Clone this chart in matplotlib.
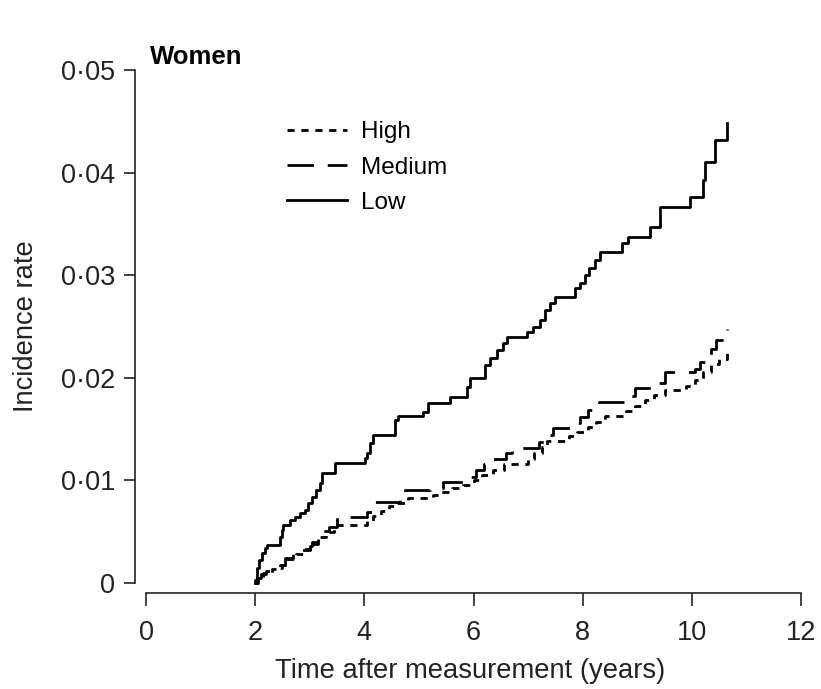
import numpy as np
import matplotlib
matplotlib.use('Agg')
import matplotlib.pyplot as plt

plt.rcParams['font.family'] = ['Liberation Sans', 'DejaVu Sans']

# Step-Daten (Zeitpunkt, kumulierte Inzidenz nach dem Sprung)
high_t = [2.0, 2.05, 2.15, 2.3, 2.45, 2.6, 2.75, 2.9, 3.05, 3.15, 3.3, 3.45,
          4.05, 4.15, 4.3, 4.45, 4.6, 4.8, 5.25, 5.4, 5.6, 5.8, 6.0, 6.15,
          6.35, 6.55, 7.0, 7.1, 7.25, 7.35, 7.75, 7.9, 8.1, 8.25, 8.4, 8.8,
          8.95, 9.15, 9.3, 9.5, 9.9, 10.05, 10.2, 10.35, 10.5, 10.65]
high_y = [0.0, 0.0005, 0.001, 0.0014, 0.0018, 0.0023, 0.0028, 0.0033, 0.0038,
          0.0045, 0.005, 0.0057, 0.006, 0.0065, 0.007, 0.0075, 0.0078, 0.0083,
          0.0086, 0.0089, 0.0093, 0.0096, 0.0100, 0.0105, 0.011, 0.0116,
          0.0121, 0.0127, 0.0133, 0.0138, 0.0143, 0.0147, 0.0152, 0.0157,
          0.0163, 0.0168, 0.0173, 0.0178, 0.0183, 0.0188, 0.0192, 0.0198,
          0.0206, 0.0213, 0.0218, 0.0224]

medium_t = [2.0, 2.03, 2.1, 2.2, 2.3, 2.5, 2.55, 2.7, 2.8, 3.0, 3.05, 3.15,
            3.25, 3.35, 3.5, 4.05, 4.15, 4.65, 4.75, 5.2, 5.45, 5.95, 6.05,
            6.2, 6.3, 6.6, 6.7, 7.2, 7.3, 7.45, 7.8, 7.95, 8.1, 8.3, 8.8,
            8.95, 9.25, 9.5, 10.05, 10.15, 10.25, 10.35, 10.45, 10.65]
medium_y = [0.0, 0.0005, 0.0009, 0.0012, 0.0015, 0.0018, 0.0024, 0.0028,
            0.0032, 0.0036, 0.004, 0.0046, 0.0051, 0.0055, 0.0064, 0.0069,
            0.0079, 0.0083, 0.0091, 0.0093, 0.0098, 0.0103, 0.011, 0.0116,
            0.0121, 0.0127, 0.0132, 0.0137, 0.0144, 0.0151, 0.0156, 0.0162,
            0.0169, 0.0176, 0.0182, 0.019, 0.0195, 0.0206, 0.0209, 0.0215,
            0.0222, 0.0228, 0.0237, 0.0248]

low_t = [2.0, 2.0, 2.03, 2.07, 2.12, 2.18, 2.22, 2.45, 2.49, 2.51, 2.64, 2.73,
         2.82, 2.91, 2.97, 3.04, 3.11, 3.19, 3.22, 3.46, 4.01, 4.05, 4.10,
         4.16, 4.56, 4.62, 5.07, 5.16, 5.57, 5.88, 5.93, 6.21, 6.30, 6.43,
         6.54, 6.61, 6.98, 7.09, 7.22, 7.31, 7.40, 7.49, 7.86, 7.95, 8.04,
         8.11, 8.22, 8.32, 8.72, 8.83, 9.23, 9.41, 9.96, 10.20, 10.24, 10.42,
         10.64]
low_y = [0.0, 0.0003, 0.0015, 0.0022, 0.0029, 0.0034, 0.0037, 0.0045, 0.0052,
         0.0057, 0.0061, 0.0064, 0.0068, 0.0071, 0.0078, 0.0084, 0.0091,
         0.0097, 0.0107, 0.0117, 0.0122, 0.0127, 0.0136, 0.0144, 0.0159,
         0.0163, 0.0167, 0.0175, 0.0181, 0.0191, 0.0200, 0.0212, 0.0219,
         0.0227, 0.0234, 0.0240, 0.0245, 0.0250, 0.0256, 0.0266, 0.0273,
         0.0279, 0.0288, 0.0292, 0.0300, 0.0307, 0.0315, 0.0323, 0.0331,
         0.0337, 0.0347, 0.0366, 0.0376, 0.0393, 0.0410, 0.0432, 0.0448]

yticks = [0, 0.01, 0.02, 0.03, 0.04, 0.05]
ytick_labels = ['0', '0·01', '0·02', '0·03', '0·04', '0·05']
xticks = [0, 2, 4, 6, 8, 10, 12]

W, H = 821, 689
fig = plt.figure(figsize=(W / 100, H / 100), dpi=100)
ax = fig.add_axes([146 / W, 1 - 583 / H, (801 - 146) / W, (583 - 70) / H])

lw = 2.0
ax.step(high_t, high_y, where='post', color='black', lw=lw,
        linestyle=(0, (2.6, 2.4)), label='High', clip_on=False)
ax.step(medium_t, medium_y, where='post', color='black', lw=lw,
        linestyle=(0, (9.5, 5)), label='Medium', clip_on=False)
ax.step(low_t, low_y, where='post', color='black', lw=lw,
        label='Low', clip_on=False)

ax.set_xlim(0, 12)
ax.set_ylim(0, 0.05)
ax.set_xticks(xticks)
ax.set_yticks(yticks)
ax.set_yticklabels(ytick_labels)

for s in ['top', 'right']:
    ax.spines[s].set_visible(False)
ax.spines['left'].set_position(('outward', 8))
ax.spines['bottom'].set_position(('outward', 7.5))
for s in ['left', 'bottom']:
    ax.spines[s].set_linewidth(1.2)
    ax.spines[s].set_color('#222222')
ax.tick_params(axis='y', length=8, width=1.2, pad=6, labelsize=19.5,
               color='#222222', labelcolor='#222222')
ax.tick_params(axis='x', length=9.5, width=1.2, pad=10, labelsize=19.5,
               color='#222222', labelcolor='#222222')

leg = ax.legend(loc='upper left', bbox_to_anchor=(0.197, 0.924), frameon=False,
                fontsize=17.5, handlelength=2.46, handletextpad=0.57,
                labelspacing=0.55, borderpad=0)

fig.text(26 / W, 1 - 326 / H, 'Incidence rate', rotation=90, fontsize=19.7,
         ha='center', va='center', color='#222222')
fig.text(470 / W, 1 - 671 / H, 'Time after measurement (years)', fontsize=19.7,
         ha='center', va='center', color='#222222')
fig.text(150 / W, 1 - 57 / H, 'Women', fontsize=18.5, fontweight='bold',
         ha='left', va='center')

fig.savefig('out.png', dpi=100)
